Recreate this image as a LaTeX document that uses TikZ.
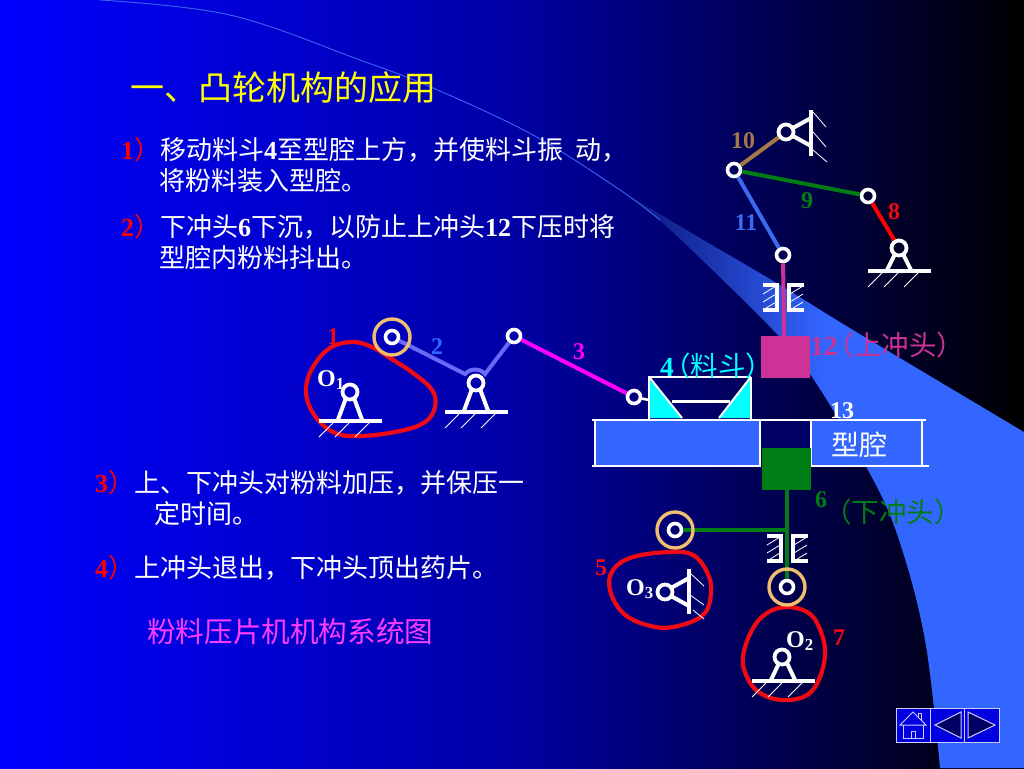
\documentclass[tikz,border=0pt]{standalone}
\usepackage{fontspec}
\setmainfont{Liberation Serif}
\newfontfamily\cjk{Noto Sans CJK SC}
\newfontfamily\cjkh[RawFeature=+halt]{Noto Sans CJK SC}
\newcommand\dg[1]{{\rmfamily\bfseries #1}}
\definecolor{bandblue}{HTML}{3366FF}
\definecolor{bandstart}{RGB}{10,20,120}
\definecolor{bgleft}{RGB}{0,0,255}
\definecolor{bgmid}{RGB}{0,0,165}
\definecolor{bgright}{RGB}{0,0,0}
\definecolor{orangering}{RGB}{240,190,110}
\definecolor{camred}{RGB}{240,10,20}
\definecolor{purered}{RGB}{255,0,0}
\definecolor{purecyan}{RGB}{0,255,255}
\definecolor{puremagenta}{RGB}{255,0,255}
\definecolor{pureyellow}{RGB}{255,255,0}
\definecolor{brownlink}{RGB}{165,120,70}
\definecolor{greenlink}{RGB}{0,125,20}
\definecolor{pinklink}{RGB}{205,50,150}
\definecolor{bluelink}{RGB}{60,105,240}
\definecolor{violetlink}{RGB}{105,105,245}
\definecolor{navygap}{RGB}{0,0,100}
\definecolor{navbtn}{RGB}{0,0,225}
\definecolor{navline}{RGB}{205,205,255}
\definecolor{hairline}{RGB}{60,100,245}
\definecolor{captioncol}{RGB}{255,60,255}
\tikzset{
 ring/.style={circle,draw=white,line width=3.6pt,minimum size=13pt,inner sep=0pt},
 bigring/.style={circle,draw=white,line width=3.8pt,minimum size=15pt,inner sep=0pt},
 roller/.style={circle,draw=orangering,line width=3.4pt,minimum size=36pt,inner sep=0pt},
 link/.style={line width=4pt},
 cam/.style={draw=camred,line width=4.2pt},
 wbar/.style={draw=white,line width=4pt},
 hatch/.style={draw=white,line width=0.8pt},
 body/.style={anchor=west,inner sep=0pt,text=white,font=\cjk\fontsize{26}{26}\selectfont},
 lab/.style={inner sep=0pt,font=\rmfamily\bfseries\fontsize{24}{24}\selectfont},
 clab/.style={inner sep=0pt,anchor=west,font=\cjkh\fontsize{27.5}{27.5}\selectfont},
}
\newcommand\grnd[3]{%
 \begin{scope}[shift={(#1,#2)}]
  \draw[wbar] (-4,6) -- (-12.5,#3) (4,6) -- (12.5,#3);
  \draw[wbar] (-31,#3) -- (31.5,#3);
  \draw[hatch] (-31,#3+16) -- (-17,#3+2) (-15,#3+16) -- (-1,#3+2) (5,#3+16) -- (19,#3+2);
 \end{scope}}
\newcommand\guide[2]{%
 \begin{scope}[shift={(#1,#2)}]
  \draw[draw=white,line width=3.4pt] (-23,0) -- (-9,0) -- (-9,25) -- (-23,25);
  \draw[draw=white,line width=3.4pt] (18,0) -- (3,0) -- (3,25) -- (18,25);
  \draw[hatch] (-23,9) -- (-10,1) (-23,17) -- (-10,9) (-23,25) -- (-10,17);
  \draw[hatch] (4,9) -- (17,1) (4,17) -- (17,9) (4,25) -- (17,17);
 \end{scope}}
\begin{document}
\begin{tikzpicture}[x=1pt,y=-1pt]
\useasboundingbox (0,0) rectangle (1024,768);
% background
\fill[left color=bgleft,right color=bgright,middle color=bgmid] (0,0) rectangle (1024,768);
% band
\shade[left color=bandstart,right color=bandblue,middle color=bandblue]
 (628,195) -- plot[smooth,tension=0.5] coordinates {(628,195)(700,238)(780,285)(853,330)(1024,432)}
 -- (1024,768) -- plot[smooth,tension=0.6] coordinates {(940,768)(925,640)(898,537)(868,470)(812,377)(773,330)(700,258)(657,218)(628,195)} -- cycle;
\draw[draw=hairline,line width=0.9pt] plot[smooth,tension=0.6] coordinates {(100,0)(230,15)(360,60)(433,88)(533,135)(620,190)(660,220)};
% title and text
\node[anchor=west,inner sep=0pt,text=pureyellow,font=\cjk\fontsize{34}{34}\selectfont] (title) at (130,88) {一、凸轮机构的应用};
\node[body] (t1) at (121,150) {\textcolor{purered}{\dg{1}）}移动料斗\dg{4}至型腔上方，并使料斗振\hspace{12pt}动，};
\node[body] (t1b) at (159,181) {将粉料装入型腔。};
\node[body] (t2) at (121,227) {\textcolor{purered}{\dg{2}）}下冲头\dg{6}下沉，以防止上冲头\dg{12}下压时将};
\node[body] (t2b) at (159,258) {型腔内粉料抖出。};
\node[body] (t3) at (95,483) {\textcolor{purered}{\dg{3}）}上、下冲头对粉料加压，并保压一};
\node[body] (t3b) at (154,514) {定时间。};
\node[body] (t4) at (95,568) {\textcolor{purered}{\dg{4}）}上冲头退出，下冲头顶出药片。};
\node[anchor=west,inner sep=0pt,text=captioncol,font=\cjk\fontsize{28.6}{28.6}\selectfont] (cap) at (147,632) {粉料压片机机构系统图};
% cams
\draw[cam] plot[smooth cycle,tension=0.65] coordinates {(352,342)(372,347)(390,358)(413,373)(432,390)(435,407)(425,422)(400,431)(360,436)(333,432)(313,413)(306,390)(313,367)(330,348)};
\draw[cam] plot[smooth cycle,tension=0.65] coordinates {(670,552)(693,555)(707,572)(711,592)(703,615)(673,627)(647,625)(623,613)(610,590)(613,570)(633,557)};
\draw[cam] plot[smooth cycle,tension=0.65] coordinates {(787,607)(807,612)(818,625)(825,650)(820,677)(807,695)(783,700)(760,693)(747,677)(743,657)(752,630)(767,613)};
% grounded pivots
\grnd{350}{392}{29}
\grnd{476}{383}{29}
\grnd{899}{248}{23}
\grnd{783}{657}{24}
% side-mounted pivots
\draw[wbar] (811,110) -- (811,156);
\draw[wbar] (793,128) -- (811,118) (793,136) -- (811,146);
\draw[hatch] (813,112) -- (826,127) (813,132) -- (826,147) (813,150) -- (827,162);
\draw[wbar] (689,569) -- (689,614);
\draw[wbar] (671,588) -- (689,578) (671,596) -- (689,606);
\draw[hatch] (690,573) -- (704,586) (690,595) -- (704,605) (693,610) -- (704,619);
% plate
\fill[bandblue] (595,420) rectangle (760,466) (811,420) rectangle (922,466);
\fill[navygap] (760,420) rectangle (811,450);
\draw[draw=white,line width=2.8pt] (592,420) -- (926,420);
\draw[draw=white,line width=2.8pt] (592,466) -- (760,466) -- (760,420);
\draw[draw=white,line width=2.8pt] (811,420) -- (811,466) -- (929,466);
\draw[draw=white,line width=2.2pt] (595,420) -- (595,466) (922,420) -- (922,466);
% hopper
\fill[purecyan] (649,378) -- (649,418) -- (682,418) -- cycle;
\fill[purecyan] (751,378) -- (751,418) -- (719,418) -- cycle;
\draw[draw=white,line width=2.8pt] (648,377) -- (751,377) (649,377) -- (649,419) (751,377) -- (751,419);
\draw[draw=white,line width=2pt] (650,378) -- (682,418) (750,378) -- (719,418);
\draw[draw=white,line width=3pt] (672,401) -- (730,401);
% punches
\fill[pinklink] (761,336) rectangle (810,378);
\fill[greenlink] (762,448) rectangle (811,490);
\guide{786}{285}
\guide{790}{536}
% joints
\node[bigring] (p10) at (786,132) {};
\node[ring] (j10) at (734,170) {};
\node[ring] (j8) at (868,196) {};
\node[bigring] (p8) at (899,248) {};
\node[ring] (j12) at (783,255) {};
\node[ring] (j3) at (514,336) {};
\node[ring] (j4) at (634,397) {};
\node[bigring] (pO1) at (350,392) {};
\node[bigring] (p2) at (476,383) {};
\node[bigring] (pO2) at (782,657) {};
\node[bigring] (pO3) at (665,592) {};
\node[ring] (r1h) at (392,337) {};
\node[ring] (r5h) at (675,530) {};
\node[ring] (r7h) at (787,587) {};
\coordinate (e1) at (465,374);
\coordinate (e2) at (485,374);
\coordinate (b12) at (784,337);
\coordinate (s6) at (787,490);
\coordinate (t6) at (787,530);
\coordinate (h4) at (649,400);
% links
\draw[link,draw=brownlink] (j10) -- (p10);
\draw[link,draw=greenlink] (j10) -- (j8);
\draw[link,draw=purered] (j8) -- (p8);
\draw[link,draw=bluelink] (j10) -- (j12);
\draw[link,draw=pinklink] (j12) -- (b12);
\draw[link,draw=violetlink] (r1h) -- (e1) to[bend left=50] (e2) -- (j3);
\draw[link,draw=puremagenta] (j3) -- (j4);
\draw[draw=white,line width=2.6pt] (j4) -- (h4);
\draw[link,draw=greenlink] (s6) -- (r7h);
\draw[link,draw=greenlink] (r5h) -- (t6);
% rollers
\node[roller] (r1) at (392,337) {};
\node[roller] (r5) at (675,530) {};
\node[roller] (r7) at (787,587) {};
% labels
\node[lab,text=camred] (l1) at (333,337) {1};
\node[lab,text=bandblue] (l2) at (437,347) {2};
\node[lab,text=puremagenta] (l3) at (579,352) {3};
\node[clab,text=purecyan] (l4) at (660,366) {\dg{4}\hspace{3pt}（料斗）};
\node[clab,text=pinklink] (l12) at (810,345) {\dg{12}\hspace{3pt}（上冲头）};
\node[lab,text=white] (l13) at (842,411) {13};
\node[inner sep=0pt,text=white,font=\cjk\fontsize{28}{28}\selectfont] (cav) at (859,445) {型腔};
\node[lab,text=greenlink] (l6) at (821,500) {6};
\node[clab,text=greenlink] (l6b) at (838,512) {（下冲头）};
\node[lab,text=camred] (l5) at (601,568) {5};
\node[lab,text=camred] (l7) at (839,638) {7};
\node[lab,text=white] (lO1) at (331,380) {O\textsubscript{1}};
\node[lab,text=white] (lO2) at (800,641) {O\textsubscript{2}};
\node[lab,text=white] (lO3) at (640,589) {O\textsubscript{3}};
\node[lab,text=camred] (l8) at (894,212) {8};
\node[lab,text=greenlink] (l9) at (807,201) {9};
\node[lab,text=brownlink] (l10) at (743,141) {10};
\node[lab,text=bluelink] (l11) at (746,223) {11};
% navigation buttons
\filldraw[fill=navbtn,draw=navline,line width=1pt] (896,708) rectangle (930,742) (930,708) rectangle (964,742) (964,708) rectangle (999,742);
\draw[draw=navline,line width=1pt] (900,725) -- (913,712) -- (926,725) -- cycle;
\draw[draw=navline,line width=1pt] (903,725) -- (903,738) -- (923,738) -- (923,725) (911,738) -- (911,731) -- (915,731) -- (915,738);
\draw[draw=navline,line width=1pt] (918,717) -- (918,713) -- (921,713) -- (921,720);
\filldraw[fill=navygap,draw=navline,line width=1pt] (935,725) -- (961,712) -- (961,738) -- cycle;
\filldraw[fill=navygap,draw=navline,line width=1pt] (968,712) -- (968,738) -- (995,725) -- cycle;
\end{tikzpicture}
\end{document}
